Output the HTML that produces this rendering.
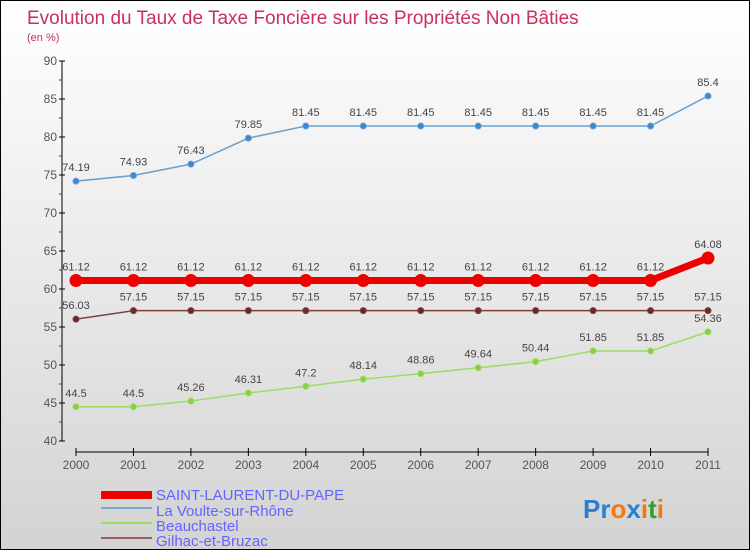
<!DOCTYPE html>
<html><head><meta charset="utf-8"><style>
body{margin:0}
#c{width:748px;height:548px;border:1px solid #000;background:linear-gradient(#ffffff,#d3d3d3);position:relative;font-family:"Liberation Sans",sans-serif}
</style></head><body>
<div id="c">
<svg id="s" width="748" height="548" style="position:absolute;left:0;top:0;font-family:'Liberation Sans',sans-serif">
<text x="26" y="23" font-size="19" fill="#c8325a">Evolution du Taux de Taxe Foncière sur les Propriétés Non Bâties</text>
<text x="26" y="40" font-size="11" fill="#c8325a">(en %)</text>
<g id="axes"></g><g id="series"></g>
<g>
<rect x="100" y="490" width="51" height="8" fill="#e00"/>
<text x="155" y="499" font-size="15" fill="#6464ff">SAINT-LAURENT-DU-PAPE</text>
<line x1="100" y1="507" x2="151" y2="507" stroke="#7aa8d0" stroke-width="2"/>
<text x="155" y="515" font-size="15" fill="#6464ff">La Voulte-sur-Rhône</text>
<line x1="100" y1="522" x2="151" y2="522" stroke="#99dd66" stroke-width="2"/>
<text x="155" y="530" font-size="15" fill="#6464ff">Beauchastel</text>
<line x1="100" y1="537" x2="151" y2="537" stroke="#9a6060" stroke-width="2"/>
<text x="155" y="545" font-size="15" fill="#6464ff">Gilhac-et-Bruzac</text>
</g>
<text x="582" y="517" font-size="26" font-weight="bold"><tspan fill="#2a7fd0">Pr</tspan><tspan fill="#f07a10">o</tspan><tspan fill="#2a7fd0">x</tspan><tspan fill="#f07a10">i</tspan><tspan fill="#30a030">t</tspan><tspan fill="#f07a10">i</tspan></text>
</svg></div>
<script>
const years=[2000,2001,2002,2003,2004,2005,2006,2007,2008,2009,2010,2011];
const yTicks=[40,45,50,55,60,65,70,75,80,85,90];
const saintLaurent=[61.12,61.12,61.12,61.12,61.12,61.12,61.12,61.12,61.12,61.12,61.12,64.08];
const laVoulte=[74.19,74.93,76.43,79.85,81.45,81.45,81.45,81.45,81.45,81.45,81.45,85.4];
const beauchastel=[44.5,44.5,45.26,46.31,47.2,48.14,48.86,49.64,50.44,51.85,51.85,54.36];
const gilhac=[56.03,57.15,57.15,57.15,57.15,57.15,57.15,57.15,57.15,57.15,57.15,57.15];
const NS='http://www.w3.org/2000/svg';
const X=i=>75+i*(632/11), Y=v=>440-(v-40)*7.6;
function mk(t,a,p){const e=document.createElementNS(NS,t);for(const k in a)e.setAttribute(k,a[k]);p.appendChild(e);return e;}
const ax=document.getElementById('axes');
let yl=mk('line',{x1:61,y1:60,x2:61,y2:440,stroke:'#000'},ax);

yTicks.forEach(v=>{mk('line',{x1:58,y1:Y(v),x2:64,y2:Y(v),stroke:'#000'},ax);
 if(v<90)mk('line',{x1:58,y1:Y(v+2.5),x2:61,y2:Y(v+2.5),stroke:'#d00'},ax);
 const t=mk('text',{x:56,y:Y(v)+4,'font-size':12,fill:'#555','text-anchor':'end'},ax);t.textContent=v;
 });
let xl=mk('line',{x1:75,y1:451,x2:707,y2:451,stroke:'#000'},ax);

years.forEach((y,i)=>{mk('line',{x1:X(i),y1:447,x2:X(i),y2:455,stroke:'#000'},ax);
 const t=mk('text',{x:X(i),y:468,'font-size':12,fill:'#555','text-anchor':'middle'},ax);t.textContent=y;
 });
const sg=document.getElementById('series');
function series(name,data,col,w,r,fill){
 const g=mk('g',{},sg);
 mk('polyline',{points:data.map((v,i)=>X(i)+','+Y(v)).join(' '),fill:'none',stroke:col,'stroke-width':w},g);
 data.forEach((v,i)=>{const c=mk('circle',{cx:X(i),cy:Y(v),r:r,fill:fill,stroke:col,'stroke-width':1},g);
  
  const t=mk('text',{x:X(i),y:Y(v)-10,'font-size':11,fill:'#444','text-anchor':'middle'},g);t.textContent=v;
  });
}
series('la-voulte-line',laVoulte,'#6aa0d0',1.5,3,'#3a88d0');
series('gilhac-line',gilhac,'#804040',1.5,3,'#6a2a2a');
series('beauchastel-line',beauchastel,'#99dd66',1.5,3,'#88d040');
series('saint-laurent-line',saintLaurent,'#ee0000',7,6,'#ee0000');
</script></body></html>
